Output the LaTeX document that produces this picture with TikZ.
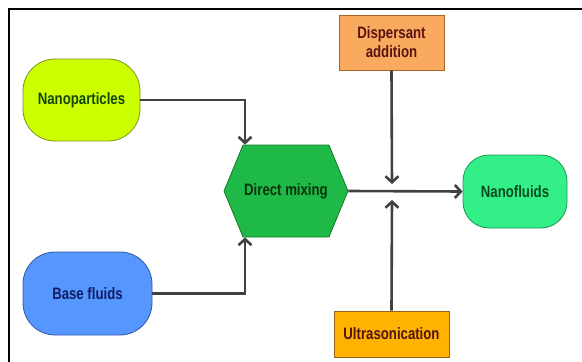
\documentclass[tikz,border=0pt]{standalone}
\usepackage{fontspec}
\setmainfont{Liberation Sans}[FakeStretch=0.8]
\usetikzlibrary{arrows.meta,shapes.symbols}

\definecolor{npfill}{RGB}{204,255,0}
\definecolor{npdraw}{RGB}{120,150,20}
\definecolor{nptext}{RGB}{20,70,10}
\definecolor{bffill}{RGB}{85,150,255}
\definecolor{bfdraw}{RGB}{50,90,170}
\definecolor{bftext}{RGB}{15,30,100}
\definecolor{mixfill}{RGB}{30,185,70}
\definecolor{mixdraw}{RGB}{20,120,40}
\definecolor{mixtext}{RGB}{10,50,15}
\definecolor{dpfill}{RGB}{250,170,95}
\definecolor{dpdraw}{RGB}{170,100,40}
\definecolor{dptext}{RGB}{90,20,20}
\definecolor{nffill}{RGB}{50,240,135}
\definecolor{nfdraw}{RGB}{30,150,80}
\definecolor{nftext}{RGB}{10,75,30}
\definecolor{usfill}{RGB}{255,178,0}
\definecolor{usdraw}{RGB}{150,100,20}
\definecolor{ustext}{RGB}{80,20,20}
\definecolor{flow}{RGB}{65,65,65}

\begin{document}
\begin{tikzpicture}[x=1pt,y=-1pt,
  font=\fontsize{16.5}{19}\selectfont\bfseries,
  every node/.style={inner sep=0pt, line width=0.8pt},
  pill/.style={rectangle, rounded corners=32pt},
  box/.style={rectangle},
  flowline/.style={draw=flow, line width=2.6pt, -{Straight Barb[length=6pt,width=13pt]}}]
\useasboundingbox (0,0) rectangle (582,362);
\draw[line width=2pt] (8.5,362) -- (8.5,8.5) -- (582,8.5);

\node[pill, fill=npfill, draw=npdraw, text=nptext, minimum width=117pt, minimum height=82pt] (np) at (81.5,100) {Nanoparticles};
\node[pill, fill=bffill, draw=bfdraw, text=bftext, minimum width=129pt, minimum height=83pt] (bf) at (87.5,293.5) {Base fluids};
\node[signal, signal to=east and west, signal pointer angle=135, fill=mixfill, draw=mixdraw, text=mixtext, minimum width=124pt, minimum height=92pt] (mix) at (286,191) {Direct mixing};
\node[box, fill=dpfill, draw=dpdraw, text=dptext, align=center, minimum width=105pt, minimum height=55pt] (dp) at (391.5,42.5) {Dispersant\\addition};
\node[pill, rounded corners=26pt, fill=nffill, draw=nfdraw, text=nftext, minimum width=104pt, minimum height=73pt] (nf) at (515,191.5) {Nanofluids};
\node[box, fill=usfill, draw=usdraw, text=ustext, minimum width=115pt, minimum height=46pt] (us) at (391.5,334) {Ultrasonication};

\coordinate (jn) at (392,191);

\draw[flowline] (np.east) -| ([xshift=-41pt]mix.north);
\draw[flowline] (bf.east) -| ([xshift=-41pt]mix.south);
\draw[flowline] (mix.east) -- (nf.west);
\draw[flowline] (dp.south) -- ([yshift=7pt]jn);
\draw[flowline] (us.north) -- ([yshift=-9pt]jn);
\end{tikzpicture}
\end{document}
